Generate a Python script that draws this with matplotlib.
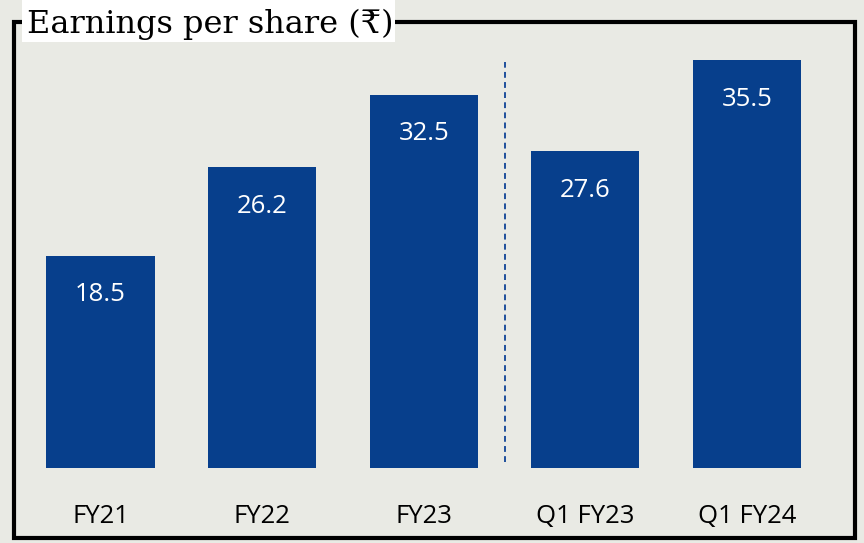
import matplotlib.pyplot as plt
from matplotlib.patches import Rectangle

# EPS values (Rs)
periods = ["FY21", "FY22", "FY23", "Q1 FY23", "Q1 FY24"]
eps = [18.5, 26.2, 32.5, 27.6, 35.5]
title = "Earnings per share (₹)"

W, H = 864, 543
bar_color = "#073f8c"
bg = "#e9eae4"

fig = plt.figure(figsize=(W / 100, H / 100), dpi=100)
fig.patch.set_facecolor(bg)

# axes spans full width, bottom of bars at y=468px
ax = fig.add_axes([0, (H - 468) / H, 1, 468 / H])
ax.set_facecolor("none")
x = list(range(len(periods)))
step = 161.6
ax.set_xlim(-100.5 / step, (W - 100.5) / step)
ax.set_ylim(0, 468 / 11.48)

bars = ax.bar(x, eps, width=0.67, color=bar_color)
for b, v in zip(bars, eps):
    ax.annotate(f"{v}", (b.get_x() + b.get_width() / 2, v), xytext=(0, -39),
                textcoords="offset pixels", ha="center", va="center",
                color="white", fontsize=18.5, family="Open Sans")

# separator between annual and quarterly
ax.plot([2.5, 2.5], [(468 - 462) / 11.48, (468 - 62) / 11.48], ls=(0, (3, 2.2)),
        color="#1f4f9c", lw=1.4)

ax.set_xticks(x)
ax.set_xticklabels(periods, fontsize=18.5, family="Open Sans")
ax.tick_params(axis="x", length=0, pad=26)
ax.set_yticks([])
for s in ax.spines.values():
    s.set_visible(False)

# frame around the chart
fig.patches.append(Rectangle((14 / W, (H - 538) / H), (855 - 14) / W, (538 - 22) / H,
                             transform=fig.transFigure, fill=False, ec="black", lw=3))
fig.patches.append(Rectangle((22 / W, (H - 42) / H), (395 - 22) / W, 42 / H,
                             transform=fig.transFigure, fc="white", ec="none", zorder=5))
fig.text(27 / W, (H - 33) / H, title, fontsize=23, color="black", va="baseline",
         family=["DejaVu Serif", "DejaVu Sans"], zorder=6)

fig.savefig("out.png", dpi=100, facecolor=bg)
